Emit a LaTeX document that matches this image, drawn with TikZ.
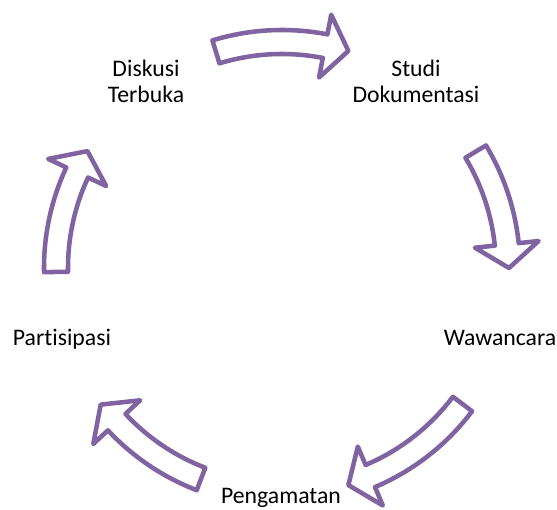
\documentclass[tikz,border=0pt]{standalone}
\usepackage{fontspec}
\setmainfont{Carlito}[Ligatures=NoCommon]
\usetikzlibrary{positioning}
\definecolor{cycpurple}{RGB}{128,100,162}

\begin{document}
\begin{tikzpicture}[
  x=0.75pt, y=0.75pt,
  font=\fontsize{17.8}{19.5}\selectfont,
  every node/.style={align=center, inner sep=0pt},
  lbl/.style={anchor=base},
  blockarrow/.style={draw=cycpurple, fill=white, line width=3.4pt, line join=round},
]
\useasboundingbox (-282,-242) rectangle (275,268);
\coordinate (c) at (0,0);

%% Labels round the cycle
\node[lbl] (diskusi) at (-136,165) {Diskusi\\Terbuka};
\node[lbl] (studi) at (134,165) {Studi\\Dokumentasi};
\node[lbl] (wawancara) at (218,-78) {Wawancara};
\node[lbl] (pengamatan) at (-1,-235) {Pengamatan};
\node[lbl] (partisipasi) at (-220,-78) {Partisipasi};

%% Arrows (tail angle / tip angle)
\foreach \ta/\tb in {107/73, 31/0, -37/-73, -111/-143, 181/149} {
  \pgfmathsetmacro{\tm}{\tb+6}
  \draw[blockarrow, shift={(c)}] (\ta:238) arc[start angle=\ta, end angle=\tm, radius=238]
    -- (\tm:258) -- (\tb:227) -- (\tm:194) -- (\tm:214)
    arc[start angle=\tm, end angle=\ta, radius=214] -- cycle;
}

\end{tikzpicture}
\end{document}
